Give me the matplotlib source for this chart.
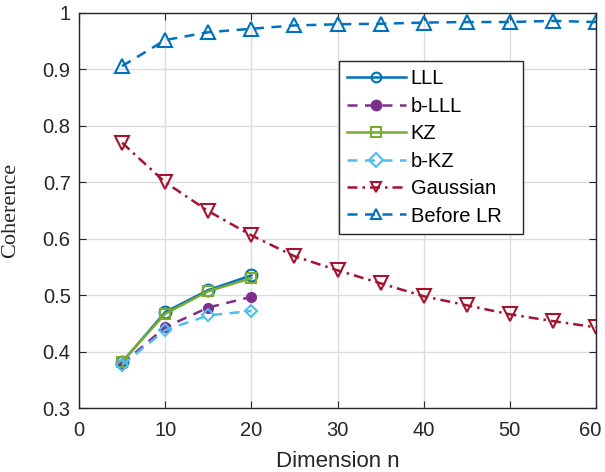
import numpy as np
import matplotlib.pyplot as plt
from matplotlib.transforms import ScaledTranslation

plt.rcParams['font.family'] = ['Liberation Sans', 'DejaVu Sans']

n_short = [5, 10, 15, 20]
n_long = [5, 10, 15, 20, 25, 30, 35, 40, 45, 50, 55, 60]

lll = [0.381, 0.470, 0.509, 0.535]
b_lll = [0.378, 0.443, 0.478, 0.497]
kz = [0.382, 0.467, 0.507, 0.530]
b_kz = [0.376, 0.438, 0.464, 0.472]
gaussian = [0.770, 0.700, 0.649, 0.606, 0.569, 0.544, 0.521, 0.498, 0.482, 0.466, 0.454, 0.443]
before_lr = [0.906, 0.952, 0.966, 0.972, 0.978, 0.980, 0.981, 0.983, 0.984, 0.984, 0.986, 0.984]

fig = plt.figure(figsize=(6.05, 4.72), dpi=100)
ax = fig.add_axes([79/605, 1-408/472, 517/605, 395/472])

lw = 1.8
ax.plot(n_short, lll, '-', color='#0072BD', lw=lw, marker='o', ms=8.5, mfc='none', mew=1.5, label='LLL')
ax.plot(n_short, b_lll, '--', color='#7E2F8E', lw=lw, marker='o', ms=6.5, mfc='#7E2F8E', mew=1.5,
        dashes=(4, 3), label='b-LLL')
ax.plot(n_short, kz, '-', color='#77AC30', lw=lw, marker='s', ms=7.5, mfc='none', mew=1.5, label='KZ')
ax.plot(n_short, b_kz, '--', color='#4DBEEE', lw=lw, marker='D', ms=6.5, mfc='none', mew=1.5,
        dashes=(4, 3), label='b-KZ')
ax.plot(n_long, gaussian, '-.', color='#A2142F', lw=lw, marker='v', ms=9.5, mfc='none', mew=1.5,
        dashes=(4, 2, 1, 2), label='Gaussian')
ax.plot(n_long, before_lr, '--', color='#0072BD', lw=lw, marker='^', ms=9.5, mfc='none', mew=1.5,
        dashes=(4, 3), label='Before LR')

ax.set_xlim(0, 60)
ax.set_ylim(0.3, 1)
ax.set_xticks(np.arange(0, 61, 10))
ax.set_yticks(np.arange(0.3, 1.01, 0.1))
ax.set_yticklabels(['0.3', '0.4', '0.5', '0.6', '0.7', '0.8', '0.9', '1'])
ax.tick_params(direction='in', top=True, right=True, labelsize=14.5, length=5, color='#262626',
               labelcolor='#262626')
ax.tick_params(axis='x', pad=9)
ax.tick_params(axis='y', pad=6)
ax.grid(True, color='#dcdcdc', lw=1)
ax.set_axisbelow(True)
for s in ax.spines.values():
    s.set_color('#262626')
    s.set_linewidth(1)

# keep the "60" inside the figure edge
last = ax.get_xticklabels()[-1]
last.set_transform(last.get_transform() + ScaledTranslation(-4/72, 0, fig.dpi_scale_trans))

ax.set_xlabel('Dimension n', fontsize=16, color='#262626')
ax.xaxis.set_label_coords(0.5, -0.108)
ax.set_ylabel('Coherence', fontsize=16, family='Liberation Serif', color='#262626')
ax.yaxis.set_label_coords(-0.114, 0.5)

leg = ax.legend(loc='upper left', bbox_to_anchor=(0.503, 0.43, 0.356, 0.448), mode='expand',
                fontsize=14.5, frameon=True, fancybox=False, edgecolor='#262626', framealpha=1,
                handlelength=2.9, handletextpad=0.25, borderpad=0.4, labelspacing=0.42,
                borderaxespad=0)
leg.get_frame().set_linewidth(1)
for h in leg.legend_handles:
    h.set_markersize(7)

fig.savefig('out.png', dpi=100)
